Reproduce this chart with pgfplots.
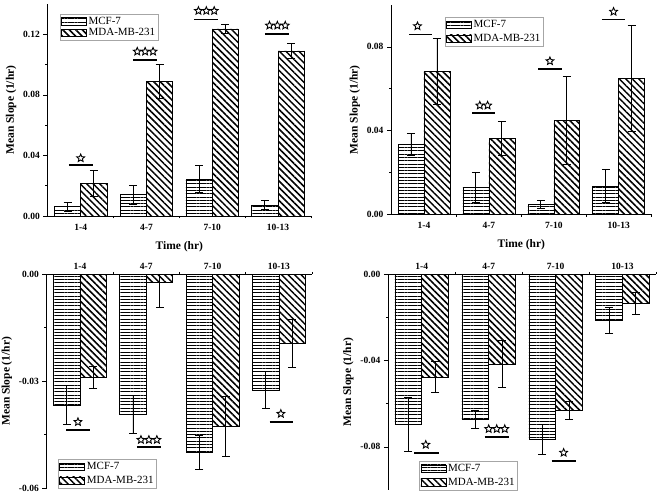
\documentclass[border=0pt]{standalone}
\usepackage{fontspec}
\setmainfont{Liberation Serif}
\usepackage{pgfplots}
\pgfplotsset{compat=1.18}
\usetikzlibrary{patterns.meta}
\pgfdeclareplotmark{ostar}{%
  \pgfpathmoveto{\pgfpointpolar{90}{\pgfplotmarksize}}%
  \pgfpathlineto{\pgfpointpolar{126}{0.45\pgfplotmarksize}}%
  \pgfpathlineto{\pgfpointpolar{162}{\pgfplotmarksize}}%
  \pgfpathlineto{\pgfpointpolar{198}{0.45\pgfplotmarksize}}%
  \pgfpathlineto{\pgfpointpolar{234}{\pgfplotmarksize}}%
  \pgfpathlineto{\pgfpointpolar{270}{0.45\pgfplotmarksize}}%
  \pgfpathlineto{\pgfpointpolar{306}{\pgfplotmarksize}}%
  \pgfpathlineto{\pgfpointpolar{342}{0.45\pgfplotmarksize}}%
  \pgfpathlineto{\pgfpointpolar{18}{\pgfplotmarksize}}%
  \pgfpathlineto{\pgfpointpolar{54}{0.45\pgfplotmarksize}}%
  \pgfpathclose\pgfusepathqstroke}
\pgfplotsset{
  mylegend/.style={legend image code/.code={\draw[##1,draw=black,line width=0.5pt] (0pt,-3.8pt) rectangle (25pt,3.8pt);}},
  ebars/.style={error bars/y dir=both, error bars/y explicit, error bars/error mark=-,
    error bars/error bar style={black, line width=0.9pt},
    error bars/error mark options={black, rotate=90, mark size=4pt, line width=0.9pt}},
  mcf/.style={ybar, bar width=0.4, bar shift=0pt, draw=black, line width=0.6pt,
    pattern={Lines[angle=0,distance=3.3pt,line width=0.9pt]}, mylegend, ebars},
  mda/.style={ybar, bar width=0.4, bar shift=0pt, draw=black, line width=0.6pt,
    pattern={Lines[angle=-45,distance=4.6pt,line width=1.5pt]}, mylegend, ebars},
  sigline/.style={black, line width=1.8pt, unbounded coords=jump, forget plot, mark=none},
  stars/.style={only marks, forget plot, mark=ostar, mark size=4.1pt,
    mark options={black, line width=0.9pt, line join=miter, fill=none}},
  panel/.style={
    scale only axis, clip=true, anchor=south west,
    xmin=-0.5, xmax=3.5,
    xtick={0,1,2,3}, xticklabels={1-4,4-7,7-10,10-13},
    minor xtick={0.5,1.5,2.5,3.5},
    major x tick style={draw=none},
    minor y tick num=1,
    scaled y ticks=false,
    tick align=outside, major tick length=4.5pt, minor tick length=2.5pt,
    tick style={black, line width=0.6pt},
    axis line style={black, line width=0.7pt},
    axis y line*=left,
    ticklabel style={font=\bfseries\fontsize{9.5}{10}\selectfont},
    yticklabel style={/pgf/number format/fixed, /pgf/number format/fixed zerofill, /pgf/number format/precision=2, /pgf/number format/assume math mode=true},
    ylabel={Mean Slope (1/hr)},
    ylabel style={font=\bfseries\fontsize{11.5}{12}\selectfont},
    xlabel style={font=\bfseries\fontsize{11.5}{12}\selectfont, yshift=-4pt},
    legend cell align=left,
    legend style={draw=gray!70, line width=0.4pt, font=\fontsize{11}{12}\selectfont,
      inner sep=1pt, row sep=-1.5pt, /tikz/every even column/.append style={column sep=1pt}},
  },
  toppanel/.style={axis x line*=top, xticklabel style={yshift=-3pt}},
}
\begin{document}
\begin{tikzpicture}
\useasboundingbox (0pt,0pt) rectangle (660pt,494pt);
% ---------------- Panel 1 (top left)
\begin{axis}[panel, at={(47.8pt,278pt)}, width=263.1pt, height=212pt,
  ymin=0, ymax=0.14, ytick={0,0.04,0.08,0.12},
  axis x line*=bottom, xlabel={Time (hr)},
  legend style={at={(0.046,0.953)}, anchor=north west}]
\addplot[mcf] coordinates {(-0.2,0.0061) +- (0,0.0028) (0.8,0.0140) +- (0,0.0062) (1.8,0.0244) +- (0,0.0088) (2.8,0.0072) +- (0,0.0032)};
\addlegendentry{MCF-7}
\addplot[mda] coordinates {(0.2,0.0213) +- (0,0.0086) (1.2,0.0889) +- (0,0.0111) (2.2,0.1236) +- (0,0.0032) (3.2,0.1090) +- (0,0.0050)};
\addlegendentry{MDA-MB-231}
\addplot[sigline] coordinates {(-0.18,0.0339) (0.18,0.0339) (0.5,nan) (0.80,0.1028) (1.16,0.1028) (1.5,nan) (1.73,0.1298) (2.09,0.1298) (2.5,nan) (2.80,0.1203) (3.16,0.1203)};
\addplot[stars] coordinates {(0,0.0382)
  (0.86,0.1086) (0.98,0.1086) (1.10,0.1086)
  (1.79,0.1355) (1.91,0.1355) (2.03,0.1355)
  (2.87,0.1258) (2.99,0.1258) (3.11,0.1258)};
\end{axis}
% ---------------- Panel 2 (top right)
\begin{axis}[panel, at={(391.5pt,279.7pt)}, width=259.7pt, height=209.3pt,
  ymin=0, ymax=0.1, ytick={0,0.04,0.08},
  axis x line*=bottom, xlabel={Time (hr)},
  legend style={at={(0.206,0.941)}, anchor=north west, row sep=1pt}]
\addplot[mcf] coordinates {(-0.2,0.0333) +- (0,0.0053) (0.8,0.0129) +- (0,0.0072) (1.8,0.0048) +- (0,0.0019) (2.8,0.0134) +- (0,0.0078)};
\addlegendentry{MCF-7}
\addplot[mda] coordinates {(0.2,0.0682) +- (0,0.0159) (1.2,0.0362) +- (0,0.0082) (2.2,0.0448) +- (0,0.0210) (3.2,0.0649) +- (0,0.0251)};
\addlegendentry{MDA-MB-231}
\addplot[sigline] coordinates {(-0.23,0.0859) (0.13,0.0859) (0.5,nan) (0.74,0.0485) (1.10,0.0485) (1.5,nan) (1.76,0.0693) (2.12,0.0693) (2.5,nan) (2.74,0.0931) (3.10,0.0931)};
\addplot[stars] coordinates {(-0.1,0.0899)
  (0.86,0.0520) (0.98,0.0520)
  (1.94,0.0732)
  (2.92,0.0968)};
\end{axis}
% ---------------- Panel 3 (bottom left)
\begin{axis}[panel, toppanel, at={(46.8pt,5.7pt)}, width=265.2pt, height=214pt,
  ymin=-0.06, ymax=0, ytick={-0.06,-0.03,0},
  legend style={at={(0.043,0.0)}, anchor=south west, row sep=1pt}]
\addplot[mcf] coordinates {(-0.2,-0.0367) +- (0,0.0055) (0.8,-0.0393) +- (0,0.0053) (1.8,-0.0499) +- (0,0.0047) (2.8,-0.0324) +- (0,0.0052)};
\addlegendentry{MCF-7}
\addplot[mda] coordinates {(0.2,-0.0289) +- (0,0.0030) (1.2,-0.0022) +- (0,0.0072) (2.2,-0.0427) +- (0,0.0084) (3.2,-0.0194) +- (0,0.0068)};
\addlegendentry{MDA-MB-231}
\addplot[sigline] coordinates {(-0.21,-0.0437) (0.15,-0.0437) (0.5,nan) (0.86,-0.0484) (1.22,-0.0484) (1.5,nan) (2.86,-0.0414) (3.22,-0.0414)};
\addplot[stars] coordinates {(-0.03,-0.0414)
  (0.92,-0.0464) (1.04,-0.0464) (1.16,-0.0464)
  (3.03,-0.0391)};
\end{axis}
% ---------------- Panel 4 (bottom right)
\begin{axis}[panel, toppanel, at={(388.3pt,4pt)}, width=267.7pt, height=215.7pt,
  ymin=-0.1, ymax=0, ytick={-0.08,-0.04,0},
  legend style={at={(0.116,0.0)}, anchor=south west, row sep=1pt}]
\addplot[mcf] coordinates {(-0.2,-0.0695) +- (0,0.0125) (0.8,-0.0674) +- (0,0.0041) (1.8,-0.0767) +- (0,0.0069) (2.8,-0.0215) +- (0,0.0061)};
\addlegendentry{MCF-7}
\addplot[mda] coordinates {(0.2,-0.0478) +- (0,0.0072) (1.2,-0.0416) +- (0,0.0110) (2.2,-0.0631) +- (0,0.0040) (3.2,-0.0135) +- (0,0.0053)};
\addlegendentry{MDA-MB-231}
\addplot[sigline] coordinates {(-0.11,-0.0829) (0.25,-0.0829) (0.5,nan) (0.94,-0.0753) (1.30,-0.0753) (1.5,nan) (1.94,-0.0866) (2.30,-0.0866)};
\addplot[stars] coordinates {(0.06,-0.0790)
  (1.00,-0.0717) (1.12,-0.0717) (1.24,-0.0717)
  (2.12,-0.0827)};
\end{axis}
\end{tikzpicture}
\end{document}
